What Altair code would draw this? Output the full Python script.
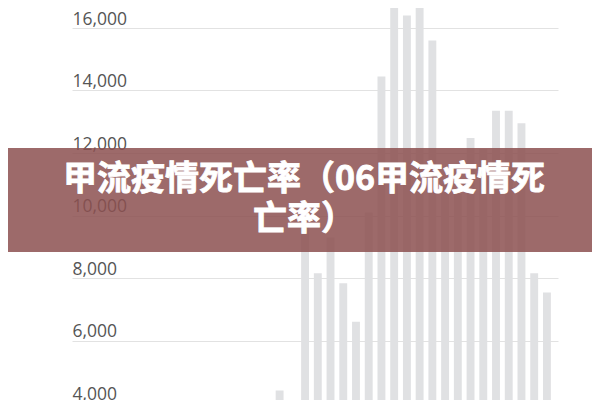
import altair as alt
import pandas as pd

# x categories (full axis domain) and the bars that have data
years = [str(y) for y in range(1976, 2014)]
bar_years = [str(y) for y in range(1992, 2014)]
deaths = [4400, 3900, 9700, 8150, 9300, 7830, 6600, 10100, 14450, 17300,
          16400, 17100, 15600, 11000, 10700, 12480, 12130, 13350, 13350,
          12950, 8150, 7540]
y_ticks = [4000, 6000, 8000, 10000, 12000, 14000, 16000]
title_lines = ["甲流疫情死亡率（06甲流疫情死", "亡率）"]

df = pd.DataFrame({"year": bar_years, "deaths": deaths})

W, H = 486, 410

bars = alt.Chart(df).mark_bar(color="#e0e1e3", clip=True).encode(
    x=alt.X("year:N", axis=None, sort=years,
            scale=alt.Scale(domain=years, paddingInner=0.38, paddingOuter=0.28,
                            align=0, round=False)),
    y=alt.Y("deaths:Q",
            scale=alt.Scale(domain=[3520, 16640], nice=False, zero=False),
            axis=alt.Axis(values=y_ticks, format=",d", title=None, grid=True,
                          gridColor="#e2e2e2", gridWidth=1, domain=False,
                          ticks=False, tickSize=0, labelAlign="left",
                          labelBaseline="alphabetic", labelPadding=0,
                          labelOffset=-4, labelFont="Open Sans",
                          labelFontSize=17.5, labelColor="#555555",
                          labelFlush=False, labelOverlap=False)),
)

band = alt.Chart(pd.DataFrame({"t": [0]})).mark_rect(
    color="#8c5050", opacity=0.85, clip=False
).encode(
    x=alt.value(-64), x2=alt.value(W + 34),
    y=alt.value(140), y2=alt.value(244),
)

title = alt.Chart(pd.DataFrame({"t": ["\n".join(title_lines)]})).mark_text(
    color="white", font="Noto Sans CJK SC", fontSize=34, fontWeight="bold",
    align="center", baseline="middle", lineBreak="\n", lineHeight=40,
    clip=False, stroke="white", strokeWidth=0.8
).encode(
    text="t:N",
    x=alt.value(232), y=alt.value(172),
)

chart = alt.layer(bars, band, title).properties(
    width=W, height=H,
    autosize=alt.AutoSizeParams(type="none"),
    padding={"left": 64, "top": 0, "right": 34, "bottom": 0},
).configure_view(stroke=None)

chart.save("out.html", embed_options={"renderer": "svg", "actions": False})
